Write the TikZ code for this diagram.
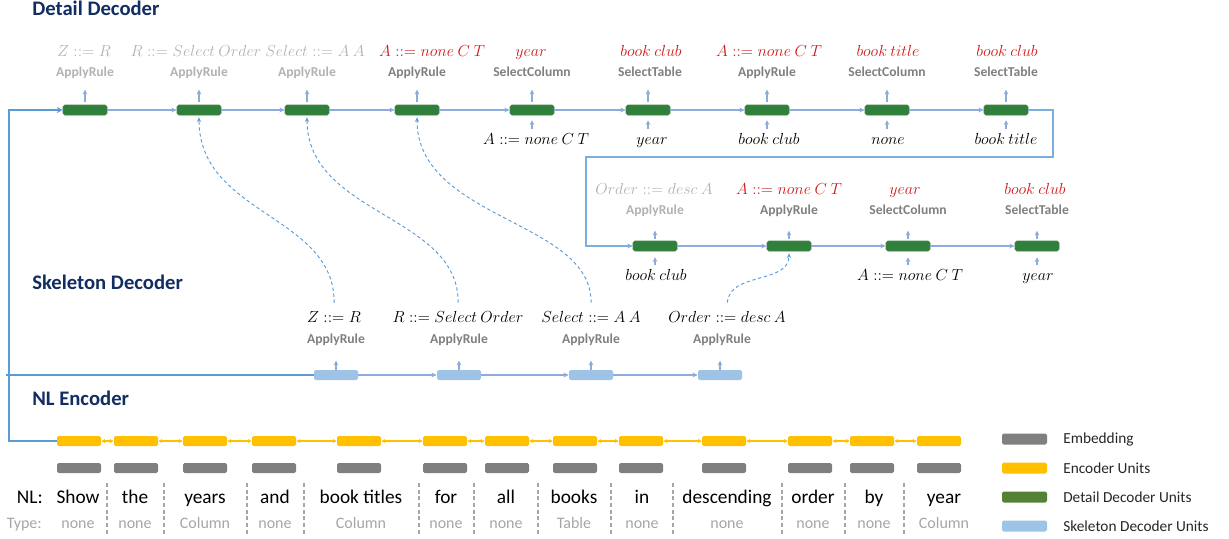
\documentclass[tikz,border=0pt]{standalone}
\usepackage{fontspec}
\setmainfont{Carlito}
\usetikzlibrary{arrows.meta}
\definecolor{dgreen}{RGB}{47,128,58}
\definecolor{lgreen}{RGB}{84,130,53}
\definecolor{skblue}{RGB}{157,195,230}
\definecolor{ency}{RGB}{255,192,0}
\definecolor{embg}{RGB}{127,127,127}
\definecolor{flowc}{RGB}{143,170,220}
\definecolor{mainb}{RGB}{91,155,213}
\definecolor{navy}{RGB}{18,45,98}
\definecolor{redl}{RGB}{208,24,24}
\definecolor{gr1}{RGB}{127,127,127}
\definecolor{gr2}{RGB}{178,178,178}
\definecolor{gr3}{RGB}{166,166,166}
\newcommand{\rl}{\mathrel{::=}}
\begin{document}
\begin{tikzpicture}[x=0.75pt,y=-0.75pt,
  unitbox/.style={rounded corners=1.3pt, minimum width=33pt, minimum height=7.5pt, inner sep=0pt},
  dbox/.style={unitbox, fill=dgreen, draw=dgreen!75!gray, line width=0.4pt},
  sbox/.style={unitbox, fill=skblue},
  ebox/.style={unitbox, fill=ency},
  mbox/.style={unitbox, fill=embg},
  legbox/.style={rounded corners=1.3pt, minimum width=33.75pt, minimum height=8.25pt, inner sep=0pt},
  rulel/.style={font=\fontsize{10.2}{12}\selectfont\bfseries, text=gr1, inner sep=0pt, anchor=base},
  ruleo/.style={rulel, text=gr2},
  mlab/.style={font=\fontsize{11.8}{13}\selectfont, inner sep=0pt, anchor=base},
  flow/.style={draw=flowc, line width=1.1pt, -{Stealth[length=4pt,width=3.6pt]}},
  tick/.style={draw=flowc, line width=1.1pt, -{Stealth[length=3.5pt,width=3.5pt]}},
  dcurve/.style={draw=mainb, dash pattern=on 2.5pt off 2pt, line width=0.7pt, -{Stealth[length=3.5pt,width=3pt]}, shorten <=6pt, shorten >=1.5pt},
  big/.style={draw=mainb, line width=1.6pt},
  loopl/.style={draw=mainb!80, line width=0.8pt, -{Stealth[length=4pt,width=3.6pt]}},
  bidir/.style={draw=ency, line width=0.9pt, {Stealth[length=3pt,width=3pt]}-{Stealth[length=3pt,width=3pt]}},
  word/.style={font=\fontsize{14.5}{16}\selectfont, inner sep=0pt, anchor=base},
  typ/.style={font=\fontsize{12}{14}\selectfont, text=gr3, inner sep=0pt, anchor=base},
  sepl/.style={draw=gr3, dash pattern=on 3pt off 2pt, line width=0.8pt},
  title/.style={font=\fontsize{15.5}{18}\selectfont\bfseries, text=navy, inner sep=0pt, anchor=west},
  legt/.style={font=\fontsize{11.5}{14}\selectfont, text=black!85, anchor=west, inner sep=0pt}
]
\useasboundingbox (0,0) rectangle (1229,539);

% titles
\node[title] (tdd) at (32,8) {Detail Decoder};
\node[title] (tsd) at (32,282) {Skeleton Decoder};
\node[title] (tne) at (32,398) {NL Encoder};

% ---------- detail decoder row 1 ----------
\node[dbox] (d1) at (85,110) {};
\node[dbox] (d2) at (199,110) {};
\node[dbox] (d3) at (307,110) {};
\node[dbox] (d4) at (417,110) {};
\node[dbox] (d5) at (532,110) {};
\node[dbox] (d6) at (648,110) {};
\node[dbox] (d7) at (767,110) {};
\node[dbox] (d8) at (887,110) {};
\node[dbox] (d9) at (1006,110) {};

\node[mlab, text=gr2] (d1m) at (84,56) {$Z\rl R$};
\node[mlab, text=gr2] (d2m) at (196,56) {$R\rl Select\ Order$};
\node[mlab, text=gr2] (d3m) at (315,56) {$Select\rl A\ A$};
\node[mlab, text=redl] (d4m) at (432,56) {$A\rl none\ C\ T$};
\node[mlab, text=redl] (d5m) at (531,56) {$year$};
\node[mlab, text=redl] (d6m) at (651,56) {$book\ club$};
\node[mlab, text=redl] (d7m) at (769,56) {$A\rl none\ C\ T$};
\node[mlab, text=redl] (d8m) at (888,56) {$book\ title$};
\node[mlab, text=redl] (d9m) at (1007,56) {$book\ club$};

\node[ruleo] (d1r) at (85,76.5) {ApplyRule};
\node[ruleo] (d2r) at (199,76.5) {ApplyRule};
\node[ruleo] (d3r) at (307,76.5) {ApplyRule};
\node[rulel] (d4r) at (417,76.5) {ApplyRule};
\node[rulel] (d5r) at (532,76.5) {SelectColumn};
\node[rulel] (d6r) at (650,76.5) {SelectTable};
\node[rulel] (d7r) at (767,76.5) {ApplyRule};
\node[rulel] (d8r) at (887,76.5) {SelectColumn};
\node[rulel] (d9r) at (1006,76.5) {SelectTable};

\node[mlab] (d5b) at (536,144) {$A\rl none\ C\ T$};
\node[mlab] (d6b) at (652,144) {$year$};
\node[mlab] (d7b) at (769,144) {$book\ club$};
\node[mlab] (d8b) at (888,144) {$none$};
\node[mlab] (d9b) at (1006,144) {$book\ title$};

\foreach \n in {d1,d2,d3,d4,d5,d6,d7,d8,d9}
  \draw[tick, shorten <=2pt] (\n.north) -- ++(0,-15);
\foreach \n in {d5,d6,d7,d8,d9}
  \draw[tick] ([yshift=-10pt]\n.south) -- ([yshift=-3.75pt]\n.south);
\foreach \a/\b in {d1/d2,d2/d3,d3/d4,d4/d5,d5/d6,d6/d7,d7/d8,d8/d9}
  \draw[flow] (\a) -- (\b);

% ---------- detail decoder row 2 ----------
\node[dbox] (e1) at (655,246) {};
\node[dbox] (e2) at (789,246) {};
\node[dbox] (e3) at (908,246) {};
\node[dbox] (e4) at (1037,246) {};

\node[mlab, text=gr2] (e1m) at (654,194) {$Order\rl desc\ A$};
\node[mlab, text=redl] (e2m) at (789,194) {$A\rl none\ C\ T$};
\node[mlab, text=redl] (e3m) at (905,194) {$year$};
\node[mlab, text=redl] (e4m) at (1035,194) {$book\ club$};

\node[ruleo] (e1r) at (655,214) {ApplyRule};
\node[rulel] (e2r) at (789,214) {ApplyRule};
\node[rulel] (e3r) at (908,214) {SelectColumn};
\node[rulel] (e4r) at (1037,214) {SelectTable};

\node[mlab] (e1b) at (656,280) {$book\ club$};
\node[mlab] (e3b) at (910,280) {$A\rl none\ C\ T$};
\node[mlab] (e4b) at (1038,280) {$year$};

\foreach \n in {e1,e2,e3,e4}
  \draw[tick, shorten <=1pt] (\n.north) -- ++(0,-10);
\foreach \n in {e1,e3,e4}
  \draw[tick] ([yshift=-10.5pt]\n.south) -- ([yshift=-4.5pt]\n.south);
\foreach \a/\b in {e1/e2,e2/e3,e3/e4}
  \draw[flow] (\a) -- (\b);

% loop from row 1 to row 2
\coordinate (r1) at (1053,110);
\coordinate (r2) at (1053,157);
\coordinate (r3) at (586,157);
\coordinate (r4) at (586,246);
\draw[loopl] (d9.east) -- (r1) -- (r2) -- (r3) -- (r4) -- (e1.west);

% ---------- skeleton decoder ----------
\node[sbox] (s1) at (336,375) {};
\node[sbox] (s2) at (459,375) {};
\node[sbox] (s3) at (591,375) {};
\node[sbox] (s4) at (720,375) {};

\node[mlab] (s1m) at (334,322) {$Z\rl R$};
\node[mlab] (s2m) at (458,322) {$R\rl Select\ Order$};
\node[mlab] (s3m) at (591,322) {$Select\rl A\ A$};
\node[mlab] (s4m) at (727,322) {$Order\rl desc\ A$};

\node[rulel] (s1r) at (336,343) {ApplyRule};
\node[rulel] (s2r) at (459,343) {ApplyRule};
\node[rulel] (s3r) at (591,343) {ApplyRule};
\node[rulel] (s4r) at (722,343) {ApplyRule};

\foreach \n in {s1,s2,s3,s4}
  \draw[tick] (\n.north) -- ++(0,-9);
\foreach \a/\b in {s1/s2,s2/s3,s3/s4}
  \draw[flow] (\a) -- (\b);

% dashed links skeleton -> detail
\draw[dcurve] (s1m.north) .. controls (335,215) and (199,215) .. (d2.south);
\draw[dcurve] (s2m.north) .. controls (459,215) and (307,215) .. (d3.south);
\draw[dcurve] (s3m.north) .. controls (592,220) and (417,220) .. (d4.south);
\draw[dcurve] (s4m.north) .. controls (729,272) and (789,284) .. (e2.south);

% ---------- NL encoder ----------
\foreach \i/\x/\c/\w/\t in {1/79/78/Show/none, 2/136/135/the/none, 3/205/205/years/Column,
   4/274/275/and/none, 5/359/361/book titles/Column, 6/445/446/for/none, 7/507/506/all/none,
   8/575/574/books/Table, 9/641/642/in/none, 10/724/727/descending/none, 11/810/813/order/none,
   12/872/874/by/none, 13/939/944/year/Column}{
  \node[ebox] (n\i) at (\x,441) {};
  \node[mbox] (m\i) at (\x,468) {};
  \node[word] (w\i) at (\c,503) {\w};
  \node[typ] (t\i) at (\c,528) {\t};
}
\foreach \a/\b in {1/2,2/3,3/4,4/5,5/6,6/7,7/8,8/9,9/10,10/11,11/12,12/13}
  \draw[bidir] (n\a) -- (n\b);
\foreach \x in {107,164,247,304,419,474,538,611,673,782,845,904}
  \draw[sepl] (\x,483) -- (\x,535);
\node[word, anchor=base east] (nl) at (43,503) {NL:};
\node[typ, anchor=base east] (ty) at (42,528) {Type:};

% main feed lines
\coordinate (b1) at (9,110);
\coordinate (b2) at (9,441);
\coordinate (b3) at (6,375);
\draw[big, -{Stealth[length=4.5pt,width=4.5pt]}] (n1.west) -- (b2) -- (b1) -- (d1.west);
\draw[big, line width=2pt] (b3) -- (s1.west);

% ---------- legend ----------
\node[legbox, fill=embg] (lg1) at (1024.5,439) {};
\node[legbox, fill=ency] (lg2) at (1024.5,468) {};
\node[legbox, fill=lgreen] (lg3) at (1024.5,497) {};
\node[legbox, fill=skblue] (lg4) at (1024.5,526) {};
\node[legt] (lt1) at (1063,439) {Embedding};
\node[legt] (lt2) at (1063,468) {Encoder Units};
\node[legt] (lt3) at (1063,497) {Detail Decoder Units};
\node[legt] (lt4) at (1063,526) {Skeleton Decoder Units};
\end{tikzpicture}
\end{document}
